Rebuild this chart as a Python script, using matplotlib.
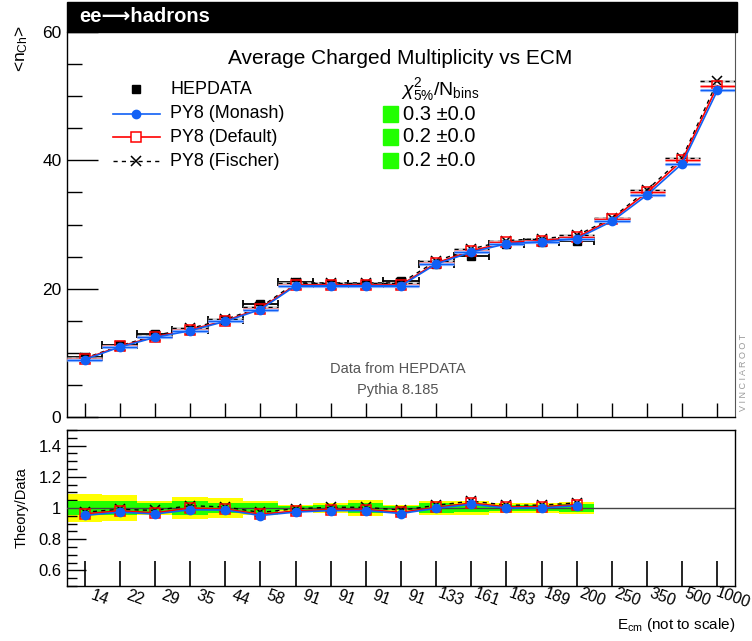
import matplotlib
matplotlib.use('Agg')
import matplotlib.pyplot as plt
import numpy as np
from matplotlib.lines import Line2D
from matplotlib.patches import Rectangle
from matplotlib.ticker import MultipleLocator, FixedLocator
import matplotlib.transforms as mtransforms

plt.rcParams['font.family'] = ['Liberation Sans', 'DejaVu Sans']
plt.rcParams['mathtext.fontset'] = 'custom'
plt.rcParams['mathtext.rm'] = 'Liberation Sans'
plt.rcParams['mathtext.it'] = 'Liberation Sans:italic'
plt.rcParams['mathtext.bf'] = 'Liberation Sans:bold'

# ---------------- data ----------------
energies = ['14', '22', '29', '35', '44', '58', '91', '91', '91', '91',
            '133', '161', '183', '189', '200', '250', '350', '500', '1000']
data_vals = [9.4, 11.2, 12.9, 13.6, 15.1, 17.6, 21.0, 20.8, 20.8, 21.2,
             23.9, 25.1, 27.0, 27.3, 27.4]
green_rel = [0.045, 0.045, 0.03, 0.045, 0.035, 0.03, 0.015, 0.02, 0.03, 0.01,
             0.03, 0.025, 0.02, 0.02, 0.028]
yellow_rel = [0.09, 0.083, 0.045, 0.072, 0.064, 0.045, 0.022, 0.032, 0.05, 0.018,
              0.045, 0.042, 0.032, 0.032, 0.038]
monash = [8.95, 10.9, 12.4, 13.45, 14.9, 16.75, 20.45, 20.45, 20.45, 20.45,
          23.85, 25.7, 27.0, 27.3, 27.8, 30.5, 34.6, 39.5, 50.9]
default = [9.05, 11.0, 12.5, 13.6, 15.0, 16.9, 20.6, 20.6, 20.6, 20.6,
           24.0, 25.9, 27.2, 27.5, 28.0, 30.8, 35.0, 40.0, 51.6]
fischer = [9.15, 11.1, 12.7, 13.8, 15.2, 17.1, 20.9, 20.9, 20.9, 20.9,
           24.3, 26.2, 27.5, 27.8, 28.3, 31.0, 35.4, 40.4, 52.3]
legend_names = ['HEPDATA', 'PY8 (Monash)', 'PY8 (Default)', 'PY8 (Fischer)']
chi2_vals = ['0.3 \u00b10.0', '0.2 \u00b10.0', '0.2 \u00b10.0']

BLUE = '#1060f5'
LBLUE = '#8cb4ff'
RED = '#ff0000'
LRED = '#ffb0b0'
GREEN = '#22ff00'
YELLOW = '#ffff00'

W, H = 752, 641
fig = plt.figure(figsize=(W / 100, H / 100), dpi=100)


def fx(px):
    return px / W


def fy(py):
    return 1 - py / H


ax = fig.add_axes([fx(67), fy(417), fx(735) - fx(67), fy(32) - fy(417)])
rax = fig.add_axes([fx(67), fy(586), fx(735) - fx(67), fy(430) - fy(586)])

x_all = np.arange(len(energies))
x_dat = np.arange(len(data_vals))
d = np.array(data_vals)

# ---------------- main panel ----------------
ax.set_xlim(-0.5, len(energies) - 0.5)
ax.set_ylim(0, 60)
ax.errorbar(x_dat, d, xerr=0.5, yerr=d * np.array(green_rel) * 0.25, fmt='s',
            color='black', ms=6, capsize=3, elinewidth=1.3, capthick=1.3, zorder=3)

# Fischer
f = np.array(fischer)
ax.hlines(f, x_all - 0.5, x_all + 0.5, colors='#cccccc', lw=1.8, zorder=3.5)
ax.hlines(f, x_all - 0.5, x_all + 0.5, colors='black', lw=1, linestyles=(0, (3, 3)), zorder=3.6)
ax.plot(x_all, f, color='black', ls=(0, (3, 3)), lw=1, marker='x', ms=7, mew=1.1, zorder=4)
# Default
r = np.array(default)
ax.hlines(r, x_all - 0.5, x_all + 0.5, colors=LRED, lw=2, zorder=4.5)
ax.hlines(r, x_all - 0.5, x_all + 0.5, colors=RED, lw=1, zorder=4.6)
ax.plot(x_all, r, color=RED, lw=1.2, marker='s', ms=6.5, mfc='none', mec=RED, mew=1.1, zorder=5)
# Monash
m = np.array(monash)
ax.hlines(m, x_all - 0.5, x_all + 0.5, colors=LBLUE, lw=2.3, zorder=5.5)
ax.hlines(m, x_all - 0.5, x_all + 0.5, colors=BLUE, lw=0.8, zorder=5.6)
ax.plot(x_all, m, color=BLUE, lw=1.2, marker='o', ms=6, mfc=BLUE, mec=BLUE, zorder=6)

ax.xaxis.set_major_locator(FixedLocator(x_all))
ax.set_xticklabels([])
ax.yaxis.set_major_locator(FixedLocator([0, 20, 40, 60]))
ax.yaxis.set_minor_locator(MultipleLocator(5))
ax.tick_params(axis='y', which='major', direction='in', length=22, width=1, labelsize=12.5, pad=4)
ax.tick_params(axis='y', which='minor', direction='in', length=11, width=1)
ax.tick_params(axis='x', which='major', direction='in', length=10, width=1)
ax.spines['top'].set_visible(False)
ax.spines['right'].set_color('#555555')
for s in ['left', 'bottom']:
    ax.spines[s].set_linewidth(1)

fig.text(fx(398), fy(369), 'Data from HEPDATA', ha='center', va='center', fontsize=10.5, color='#555555')
fig.text(fx(398), fy(390), 'Pythia 8.185', ha='center', va='center', fontsize=10.5, color='#555555')

# header band
fig.patches.append(Rectangle((fx(67), fy(32)), fx(737) - fx(67), fy(2) - fy(32),
                             transform=fig.transFigure, color='black', zorder=5))
fig.text(fx(79), fy(17), 'ee\u27f6hadrons', ha='left', va='center', fontsize=14.5,
         fontweight='bold', color='white', zorder=6,
         family=['Liberation Sans', 'DejaVu Sans'])
fig.text(fx(400), fy(58), 'Average Charged Multiplicity vs ECM', ha='center', va='center', fontsize=15)

# y label main
fig.text(fx(22), fy(25), r'<n$_{\rm Ch}$>', rotation=90, ha='center', va='top', fontsize=12.5)

# legend
rows_y = [89, 114, 137, 161]
for name, yy in zip(legend_names, rows_y):
    fig.text(fx(170), fy(yy), name, ha='left', va='center', fontsize=12.9)
fig.add_artist(Line2D([fx(136)], [fy(89)], marker='s', color='black', ms=6, ls='none'))
fig.add_artist(Line2D([fx(113), fx(160)], [fy(114), fy(114)], color=BLUE, lw=1.2))
fig.add_artist(Line2D([fx(136)], [fy(114)], marker='o', color=BLUE, ms=6, ls='none'))
fig.add_artist(Line2D([fx(113), fx(160)], [fy(137), fy(137)], color=RED, lw=1.2))
fig.add_artist(Line2D([fx(136)], [fy(137)], marker='s', mfc='white', mec=RED, ms=6.5, mew=1.1, ls='none'))
fig.add_artist(Line2D([fx(113), fx(160)], [fy(161), fy(161)], color='black', lw=1, ls=(0, (3, 3))))
fig.add_artist(Line2D([fx(136)], [fy(161)], marker='x', color='black', ms=7, mew=1.1, ls='none'))

fig.text(fx(401), fy(90), r'$\chi^2_{5\%}$/N$_{\rm bins}$', ha='left', va='center', fontsize=14)
for val, yy in zip(chi2_vals, rows_y[1:]):
    fig.patches.append(Rectangle((fx(383), fy(yy + 7.5)), fx(15), 15 / H,
                                 transform=fig.transFigure, color=GREEN, zorder=2))
    fig.text(fx(403), fy(yy), val, ha='left', va='center', fontsize=14.5)

fig.text(fx(743), fy(372), 'V I N C I A R O O T', rotation=90, ha='center', va='center',
         fontsize=6.5, color='#999999')

# ---------------- ratio panel ----------------
rax.set_xlim(-0.5, len(energies) - 0.5)
rax.set_ylim(0.5, 1.5)
yl = np.array(yellow_rel)
gr = np.array(green_rel)
rax.bar(x_dat, 2 * yl, bottom=1 - yl, width=1.0, color=YELLOW, lw=0, zorder=1)
rax.bar(x_dat, 2 * gr, bottom=1 - gr, width=1.0, color=GREEN, lw=0, zorder=2)
rax.axhline(1.0, color='#444444', lw=1, zorder=3)

nd = len(data_vals)
rax.plot(x_dat, f[:nd] / d, color='black', ls=(0, (3, 3)), lw=1, marker='x', ms=7, mew=1.1, zorder=4)
rax.plot(x_dat, r[:nd] / d, color=RED, lw=1.2, marker='s', ms=6.5, mfc='none', mec=RED, mew=1.1, zorder=5)
rax.plot(x_dat, m[:nd] / d, color=BLUE, lw=1.2, marker='o', ms=6, mfc=BLUE, mec=BLUE, zorder=6)

rax.xaxis.set_major_locator(FixedLocator(x_all))
rax.set_xticklabels([])
rax.yaxis.set_major_locator(FixedLocator([0.6, 0.8, 1.0, 1.2, 1.4]))
rax.set_yticklabels(['0.6', '0.8', '1', '1.2', '1.4'])
rax.yaxis.set_minor_locator(MultipleLocator(0.05))
rax.tick_params(axis='y', which='major', direction='in', length=14, width=1, labelsize=12, pad=4)
rax.tick_params(axis='y', which='minor', direction='in', length=7, width=1)
rax.tick_params(axis='x', which='major', direction='in', length=18, width=1.2)
for s in rax.spines.values():
    s.set_linewidth(1)

trans = mtransforms.blended_transform_factory(rax.transData, rax.transAxes)
for i, lab in enumerate(energies):
    rax.text(i + 0.43, -0.075, lab, transform=trans, rotation=-20, ha='center', va='center',
             rotation_mode='anchor', fontsize=11.5)

fig.text(fx(22), fy(508), 'Theory/Data', rotation=90, ha='center', va='center', fontsize=10.5)
fig.text(fx(735), fy(625), r'E$_{\rm cm}$ (not to scale)', ha='right', va='center', fontsize=11)

fig.savefig('out.png', dpi=100)
